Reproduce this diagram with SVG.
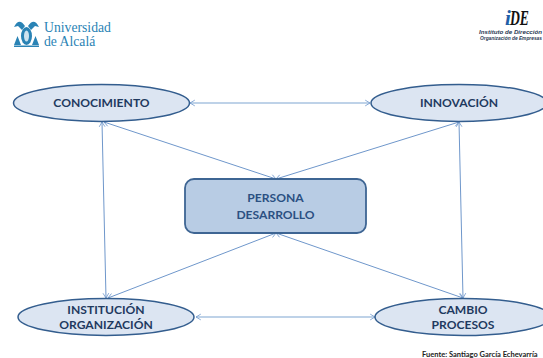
<svg xmlns="http://www.w3.org/2000/svg" width="543" height="358" viewBox="0 0 543 358">
<style>
.ell{fill:#dce5f2;stroke:#335d8e;stroke-width:1.5}
.box{fill:#b8cce4;stroke:#3e6593;stroke-width:1.8}
.lbl{font-family:"Lato","Open Sans",sans-serif;font-weight:700;font-size:12.1px;fill:#1f3a60;text-anchor:middle}
.cen{fill:#2b5082}
.con{fill:none;stroke:#6f97cb;stroke-width:1;marker-start:url(#a);marker-end:url(#a)}
.thick{stroke:#a9c3e1;stroke-width:1.5}
.uni{font-family:"Liberation Serif",serif;font-size:13.700px;fill:#2a83b5}
.ide{font-family:"Liberation Sans",sans-serif;font-weight:700;font-style:italic;font-size:4.800px;fill:#2a3a55}
</style>
<defs>
<marker id="a" viewBox="-8 -5 9 10" refX="0" refY="0" markerWidth="8" markerHeight="8" markerUnits="userSpaceOnUse" orient="auto-start-reverse"><path d="M-6,-3.6L0,0L-6,3.6" fill="none" stroke="#6f97cb" stroke-width="1"/></marker>
</defs>
<rect width="543" height="358" fill="#fff"/>
<g id="logo-alcala">
<g fill="#2a83b5">
<path d="M14,45L17.500,36L21,45ZM32,45L35.500,36L39,45Z"/>
<ellipse cx="26.500" cy="36" rx="5.500" ry="9"/>
<path d="M14,27Q19,17 25,26L22,30L18,26ZM39,27Q34,17 28,26L31,30L35,26Z"/>
<path d="M14,45.500H39V47H14Z"/>
</g>
<ellipse cx="26.500" cy="36" rx="2.500" ry="5.500" fill="#cfe3ef"/>
<text class="uni" x="44" y="32">Universidad</text>
<text class="uni" x="44" y="46">de Alcalá</text>
</g>
<g id="logo-ide">
<text x="505" y="24.500" font-family="Liberation Serif,serif" font-style="italic" font-weight="700" font-size="21" fill="#1f5fa8">i</text>
<text x="510" y="24.500" font-family="Liberation Serif,serif" font-style="italic" font-weight="700" font-size="20" fill="#111" textLength="19" lengthAdjust="spacingAndGlyphs">DE</text>
<text class="ide" x="479" y="33.500" textLength="63" lengthAdjust="spacingAndGlyphs">Instituto de Dirección</text>
<text class="ide" x="480" y="39.500" textLength="62" lengthAdjust="spacingAndGlyphs">Organización de Empresas</text>
</g>
<g id="connectors">
<path class="con thick" d="M190,103H370"/>
<path class="con thick" d="M196,317H375"/>
<path class="con" d="M102,122L106,298"/>
<path class="con" d="M459,122L463,298"/>
<path class="con" d="M104,122L276,179"/>
<path class="con" d="M459,122L276,179"/>
<path class="con" d="M108,298L276,233"/>
<path class="con" d="M463,298L276,233"/>
</g>
<g id="conocimiento"><ellipse class="ell" cx="101.500" cy="103" rx="88" ry="18.500"/><text class="lbl" x="101.500" y="107.300">CONOCIMIENTO</text></g>
<g id="innovacion"><ellipse class="ell" cx="459" cy="103" rx="88" ry="18.500"/><text class="lbl" x="459" y="107.300">INNOVACIÓN</text></g>
<g id="persona"><rect class="box" x="185" y="179" width="181" height="54" rx="9"/><text class="lbl cen" x="275.500" y="202">PERSONA</text><text class="lbl cen" x="275.500" y="218.500">DESARROLLO</text></g>
<g id="institucion"><ellipse class="ell" cx="106" cy="317" rx="88" ry="18.500"/><text class="lbl" x="106" y="314.300">INSTITUCIÓN</text><text class="lbl" x="106" y="329">ORGANIZACIÓN</text></g>
<g id="cambio"><ellipse class="ell" cx="463" cy="317" rx="88" ry="18.500"/><text class="lbl" x="463" y="314.300">CAMBIO</text><text class="lbl" x="463" y="329">PROCESOS</text></g>
<text x="422" y="356.500" font-family="Lato,sans-serif" font-weight="700" font-size="7.500" fill="#222">Fuente: Santiago García Echevarría</text>
</svg>
